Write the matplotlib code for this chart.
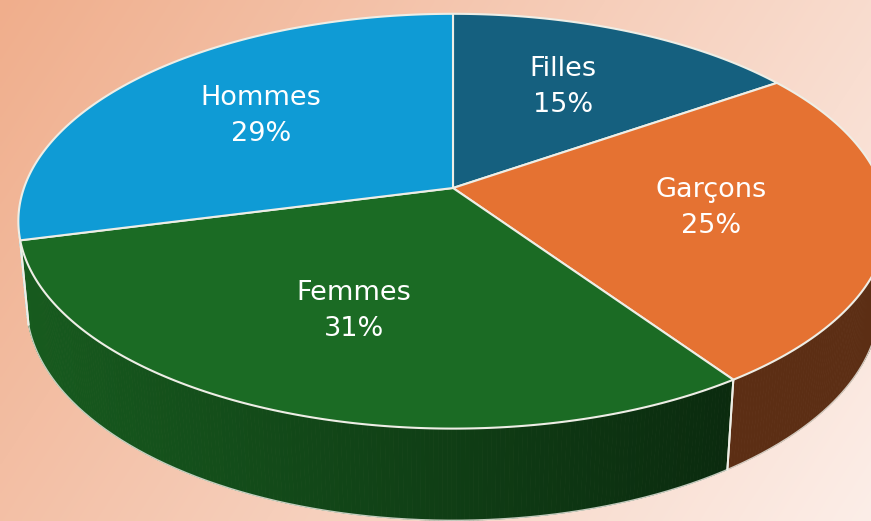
import numpy as np
import matplotlib
matplotlib.use('Agg')
import matplotlib.pyplot as plt
from matplotlib.patches import Polygon

# ---- data ----
categories = ['Filles', 'Garçons', 'Femmes', 'Hommes']
values = [15.4, 25.0, 30.6, 29.0]
colors = ['#15607F', '#E57232', '#1B6B24', '#0F9BD5']

W, H = 871, 521
fig = plt.figure(figsize=(W / 100, H / 100), dpi=100)
ax = fig.add_axes([0, 0, 1, 1])
ax.set_xlim(0, W)
ax.set_ylim(H, 0)
ax.axis('off')

# ---- background gradient ----
xx, yy = np.meshgrid(np.linspace(0, 1, 300), np.linspace(0, 1, 200))
t = np.clip(0.72 * xx + 0.28 * yy, 0, 1)
c0 = np.array([240, 174, 140]) / 255
c1 = np.array([252, 238, 232]) / 255
img = c0 + (c1 - c0) * t[..., None]
ax.imshow(img, extent=[0, W, H, 0], aspect='auto', zorder=0, interpolation='bilinear')

# ---- perspective projection ----
cx, cy = 453, 188
elev = np.radians(28.1)
D = 5.51
F = 2364
h = 0.22
se, ce = np.sin(elev), np.cos(elev)


def proj(X, Y, Z):
    depth = D + Y * ce - Z * se
    yc = Y * se + Z * ce
    return cx + F * X / depth, cy - F * yc / depth


def pt(theta_deg, r=1.0, z=0.0):
    th = np.radians(theta_deg)
    return proj(r * np.sin(th), r * np.cos(th), z)


total = sum(values)
fracs = np.array(values) / total
bounds = np.concatenate([[0], np.cumsum(fracs)]) * 360.0

edge_col = '#EEEEE6'
tv0 = np.degrees(np.arccos(-1.0 / (D * ce)))
tv1 = 360.0 - tv0


def shade(u):
    return np.clip(0.85 - 0.45 * (u - 20) / 710.0, 0.4, 0.85)


# ---- side walls ----
for i, col in enumerate(colors):
    a0, a1 = max(bounds[i], tv0), min(bounds[i + 1], tv1)
    if a1 <= a0:
        continue
    base = np.array(matplotlib.colors.to_rgb(col))
    angs = np.linspace(a0, a1, max(3, int((a1 - a0) * 2)))
    for j in range(len(angs) - 1):
        p1 = pt(angs[j]); p2 = pt(angs[j + 1])
        q2 = pt(angs[j + 1], z=-h); q1 = pt(angs[j], z=-h)
        fc = base * shade((p1[0] + p2[0]) / 2)
        ax.add_patch(Polygon([p1, p2, q2, q1], closed=True, facecolor=fc,
                             edgecolor=fc, linewidth=0.6, zorder=2))
    for a in (bounds[i], bounds[i + 1]):
        if tv0 < a < tv1:
            p = pt(a); q = pt(a, z=-h)
            ax.plot([p[0], q[0]], [p[1], q[1]], color=edge_col, lw=1.4, zorder=3)

# bottom outline and silhouettes
angs = np.linspace(tv0, tv1, 400)
bx, by = zip(*[pt(a, z=-h) for a in angs])
ax.plot(bx, by, color=edge_col, lw=1.0, alpha=0.8, zorder=3)
for a in (tv0, tv1):
    p = pt(a); q = pt(a, z=-h)
    ax.plot([p[0], q[0]], [p[1], q[1]], color=edge_col, lw=1.0, alpha=0.8, zorder=3)

# ---- top surface ----
for i, col in enumerate(colors):
    angs = np.linspace(bounds[i], bounds[i + 1], 200)
    verts = [(cx, cy)] + [pt(a) for a in angs]
    ax.add_patch(Polygon(verts, closed=True, facecolor=col, edgecolor=edge_col,
                         linewidth=1.5, joinstyle='round', zorder=4))

# ---- labels ----
for i, name in enumerate(categories):
    mid = (bounds[i] + bounds[i + 1]) / 2
    u, v = pt(mid, r=0.6)
    pct = int(round(fracs[i] * 100))
    ax.text(u, v - 2, f'{name}\n{pct}%', color='white', fontsize=19.5,
            ha='center', va='center', linespacing=1.5, zorder=5,
            family='DejaVu Sans')

fig.savefig('out.png', dpi=100)
